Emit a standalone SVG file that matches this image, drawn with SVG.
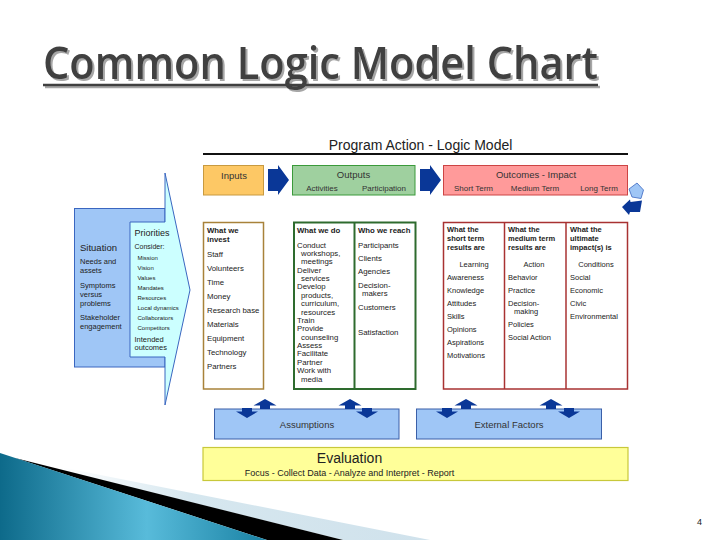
<svg xmlns="http://www.w3.org/2000/svg" width="720" height="540" viewBox="0 0 720 540">
<defs>
<style>
.t{font-family:"Liberation Sans",Arial,sans-serif;fill:#222;}
.h{font-size:9.5px;fill:#333;text-anchor:middle;}
.sh{font-size:8px;fill:#333;text-anchor:middle;}
.i{font-size:7.8px;}
.o{font-size:7.5px;}
.p{font-size:6px;}
.b{font-weight:bold;}
.m{text-anchor:middle;}
.arr{fill:#0a3797;}
</style>
<filter id="shadow" x="-5%" y="-20%" width="110%" height="150%">
<feDropShadow dx="2" dy="2" stdDeviation="0.6" flood-color="#909090" flood-opacity="0.8"/>
</filter>
<linearGradient id="teal" x1="0" y1="0" x2="1" y2="0">
<stop offset="0" stop-color="#0d6a8a"/>
<stop offset="0.55" stop-color="#58bbda"/>
<stop offset="1" stop-color="#1a82a4"/>
</linearGradient>
<linearGradient id="light" x1="0" y1="0" x2="1" y2="0">
<stop offset="0" stop-color="#ffffff"/>
<stop offset="0.35" stop-color="#d6e7ef"/>
<stop offset="1" stop-color="#d0e2ec"/>
</linearGradient>
<path id="up" d="M0,-10 L11.5,-3.5 L5,-3.5 L5,0 L-5,0 L-5,-3.5 L-11.5,-3.5 Z"/>
<path id="dn" d="M-5,0 L5,0 L5,3.5 L11,3.5 L0,10 L-11,3.5 L-5,3.5 Z"/>
</defs>
<rect width="720" height="540" fill="#ffffff"/>

<g id="title" filter="url(#shadow)">
<text x="43" y="79" font-family="'Open Sans','DejaVu Sans',sans-serif" font-weight="600" font-size="45" fill="#3f3f3f" textLength="555" lengthAdjust="spacingAndGlyphs">Common Logic Model Chart</text>
<line x1="43" y1="85" x2="598" y2="85" stroke="#3f3f3f" stroke-width="2.5"/>
</g>

<g id="decoration">
<polygon points="60,467 430,540 343,540 60,470" fill="url(#light)"/>
<polygon points="15,458 343,540 267,540" fill="#000000"/>
<polygon points="0,453 267,540 0,540" fill="url(#teal)"/>
</g>

<g id="header">
<text class="t" x="420.5" y="150" font-size="14" text-anchor="middle">Program Action - Logic Model</text>
<line x1="203" y1="154" x2="628" y2="154" stroke="#111" stroke-width="2"/>
</g>

<g id="inputs-head">
<rect x="203.5" y="165.5" width="60" height="29.5" fill="#fdc865" stroke="#c89a40" stroke-width="1"/>
<text class="t h" x="234" y="179">Inputs</text>
</g>
<g id="outputs-head">
<rect x="292.5" y="165.5" width="122.5" height="29.5" fill="#9fd09f" stroke="#3a9a3a" stroke-width="1"/>
<text class="t h" x="353.5" y="177.5">Outputs</text>
<text class="t sh" x="322" y="190.5">Activities</text>
<text class="t sh" x="384" y="190.5">Participation</text>
</g>
<g id="outcomes-head">
<rect x="443.5" y="165.5" width="184" height="29.5" fill="#ff9a9a" stroke="#cc4444" stroke-width="1"/>
<text class="t h" x="536" y="177.5">Outcomes - Impact</text>
<text class="t sh" x="473.5" y="190.5">Short Term</text>
<text class="t sh" x="535" y="190.5">Medium Term</text>
<text class="t sh" x="599" y="190.5">Long Term</text>
</g>

<g id="situation">
<rect x="74.5" y="208.5" width="90.5" height="158.5" fill="#9fc6f6" stroke="#3a66c0" stroke-width="1"/>
<text class="t" x="80" y="250.5" font-size="9.5">Situation</text>
<text class="t o" x="80" y="264">Needs and</text>
<text class="t o" x="80" y="272.5">assets</text>
<text class="t o" x="80" y="288">Symptoms</text>
<text class="t o" x="80" y="297">versus</text>
<text class="t o" x="80" y="306">problems</text>
<text class="t o" x="80" y="320">Stakeholder</text>
<text class="t o" x="80" y="329">engagement</text>
</g>

<g id="priorities">
<polygon points="165,173 190,290 165,405 165,357 130,357 130,222 165,222" fill="#ccffff" stroke="#3a66c0" stroke-width="1"/>
<text class="t" x="134.5" y="236" font-size="9">Priorities</text>
<text class="t" x="134.5" y="249" font-size="7">Consider:</text>
<text class="t p" x="137.5" y="259.5">Mission</text>
<text class="t p" x="137.5" y="269.5">Vision</text>
<text class="t p" x="137.5" y="279.5">Values</text>
<text class="t p" x="137.5" y="289.5">Mandates</text>
<text class="t p" x="137.5" y="299.5">Resources</text>
<text class="t p" x="137.5" y="309.5">Local dynamics</text>
<text class="t p" x="137.5" y="320">Collaborators</text>
<text class="t p" x="137.5" y="330">Competitors</text>
<text class="t o" x="134.5" y="342">Intended</text>
<text class="t o" x="134.5" y="350">outcomes</text>
</g>

<g id="inputs">
<rect x="203.5" y="222.5" width="60" height="166.5" fill="#ffffff" stroke="#a8823a" stroke-width="1.5"/>
<text class="t i b" x="207" y="233">What we</text>
<text class="t i b" x="207" y="242">invest</text>
<text class="t i" x="207" y="256.5">Staff</text>
<text class="t i" x="207" y="271">Volunteers</text>
<text class="t i" x="207" y="285">Time</text>
<text class="t i" x="207" y="299">Money</text>
<text class="t i" x="207" y="313">Research base</text>
<text class="t i" x="207" y="327">Materials</text>
<text class="t i" x="207" y="340.5">Equipment</text>
<text class="t i" x="207" y="354.5">Technology</text>
<text class="t i" x="207" y="368.5">Partners</text>
</g>

<g id="outputs">
<rect x="294" y="222.5" width="121.5" height="166.5" fill="#ffffff" stroke="#2e6b2e" stroke-width="2"/>
<line x1="354.5" y1="222.5" x2="354.5" y2="389" stroke="#2e6b2e" stroke-width="2"/>
<text class="t i b" x="297" y="233">What we do</text>
<text class="t i" x="297" y="247.5">Conduct</text>
<text class="t i" x="301" y="255.9">workshops,</text>
<text class="t i" x="301" y="264.3">meetings</text>
<text class="t i" x="297" y="272.6">Deliver</text>
<text class="t i" x="301" y="281">services</text>
<text class="t i" x="297" y="289.4">Develop</text>
<text class="t i" x="301" y="297.8">products,</text>
<text class="t i" x="301" y="306.1">curriculum,</text>
<text class="t i" x="301" y="314.5">resources</text>
<text class="t i" x="297" y="322.9">Train</text>
<text class="t i" x="297" y="331.3">Provide</text>
<text class="t i" x="301" y="339.6">counseling</text>
<text class="t i" x="297" y="348">Assess</text>
<text class="t i" x="297" y="356.4">Facilitate</text>
<text class="t i" x="297" y="364.8">Partner</text>
<text class="t i" x="297" y="373.1">Work with</text>
<text class="t i" x="301" y="381.5">media</text>
<text class="t i b" x="358" y="233">Who we reach</text>
<text class="t i" x="358" y="248">Participants</text>
<text class="t i" x="358" y="260.5">Clients</text>
<text class="t i" x="358" y="273.5">Agencies</text>
<text class="t i" x="358" y="288">Decision-</text>
<text class="t i" x="362" y="296">makers</text>
<text class="t i" x="358" y="309.5">Customers</text>
<text class="t i" x="358" y="335">Satisfaction</text>
</g>

<g id="outcomes">
<rect x="443.5" y="222.5" width="184" height="166.5" fill="#ffffff" stroke="#a83232" stroke-width="1.5"/>
<line x1="504.5" y1="222.5" x2="504.5" y2="389" stroke="#a83232" stroke-width="1.5"/>
<line x1="566" y1="222.5" x2="566" y2="389" stroke="#a83232" stroke-width="1.5"/>
<text class="t o b" x="447" y="232">What the</text>
<text class="t o b" x="447" y="240.5">short term</text>
<text class="t o b" x="447" y="249.5">results are</text>
<text class="t o m" x="474" y="266.5">Learning</text>
<text class="t o" x="447" y="280">Awareness</text>
<text class="t o" x="447" y="293">Knowledge</text>
<text class="t o" x="447" y="306">Attitudes</text>
<text class="t o" x="447" y="319">Skills</text>
<text class="t o" x="447" y="332">Opinions</text>
<text class="t o" x="447" y="345">Aspirations</text>
<text class="t o" x="447" y="358">Motivations</text>
<text class="t o b" x="508" y="232">What the</text>
<text class="t o b" x="508" y="240.5">medium term</text>
<text class="t o b" x="508" y="249.5">results are</text>
<text class="t o m" x="534" y="266.5">Action</text>
<text class="t o" x="508" y="280">Behavior</text>
<text class="t o" x="508" y="293">Practice</text>
<text class="t o" x="508" y="306">Decision-</text>
<text class="t o" x="514" y="314">making</text>
<text class="t o" x="508" y="327">Policies</text>
<text class="t o" x="508" y="340">Social Action</text>
<text class="t o b" x="570" y="232">What the</text>
<text class="t o b" x="570" y="240.5">ultimate</text>
<text class="t o b" x="570" y="249.5">impact(s) is</text>
<text class="t o m" x="596" y="266.5">Conditions</text>
<text class="t o" x="570" y="280">Social</text>
<text class="t o" x="570" y="293">Economic</text>
<text class="t o" x="570" y="306">Civic</text>
<text class="t o" x="570" y="319">Environmental</text>
</g>

<g id="assumptions">
<rect x="214.5" y="409" width="184.5" height="30" fill="#9fc6f6" stroke="#3a5fa8" stroke-width="1"/>
<text class="t h" x="307" y="427.5">Assumptions</text>
</g>
<g id="external-factors">
<rect x="416.5" y="409" width="185" height="30" fill="#9fc6f6" stroke="#3a5fa8" stroke-width="1"/>
<text class="t h" x="509" y="427.5">External Factors</text>
</g>

<g id="evaluation">
<rect x="203" y="447.5" width="425" height="33" fill="#ffff99" stroke="#c8c83a" stroke-width="1.2"/>
<text class="t" x="349.5" y="462.5" font-size="14" text-anchor="middle">Evaluation</text>
<text class="t" x="349.5" y="476" font-size="9" text-anchor="middle">Focus - Collect Data - Analyze and Interpret - Report</text>
</g>

<g id="connectors">
<path class="arr" d="M268,169 L278,169 L278,165 L289,180 L278,195 L278,191 L268,191 Z"/>
<path class="arr" d="M420,169 L430,169 L430,165 L441,180 L430,195 L430,191 L420,191 Z"/>
<use href="#dn" class="arr" x="247" y="408"/>
<use href="#up" class="arr" x="265" y="409"/>
<use href="#up" class="arr" x="350" y="409"/>
<use href="#dn" class="arr" x="367" y="408"/>
<use href="#dn" class="arr" x="447" y="408"/>
<use href="#up" class="arr" x="466" y="409"/>
<use href="#up" class="arr" x="551" y="409"/>
<use href="#dn" class="arr" x="569" y="408"/>
<polygon points="637,183 643.5,190 641,198.5 632,197 629,189" fill="#9fc6f6" stroke="#3a66c0" stroke-width="0.8"/>
<polygon points="622,207 630,199.5 630.5,202 642,200.5 640,212 630,212 629,215" fill="#0a3797"/>
</g>

<g id="page-number">
<text class="t" x="697" y="525" font-size="9" fill="#333">4</text>
</g>
</svg>
